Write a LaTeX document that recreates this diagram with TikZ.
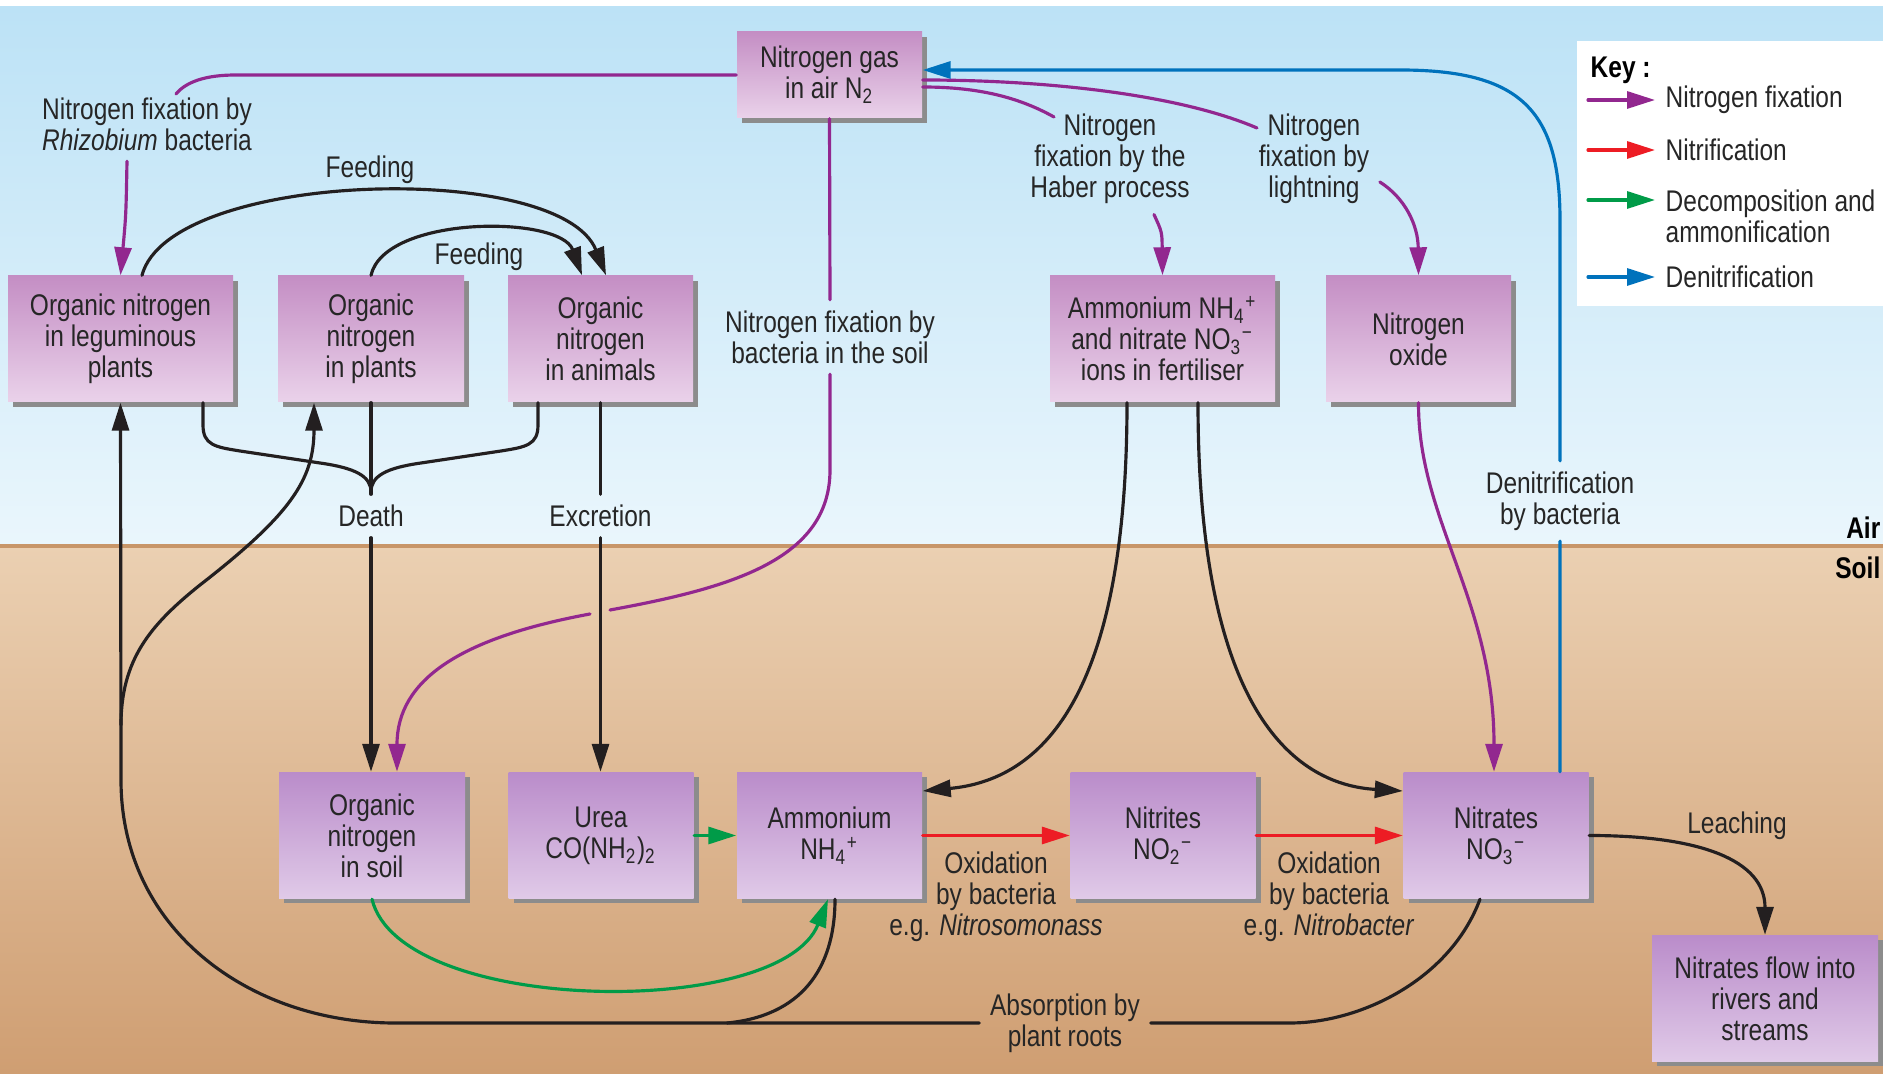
\documentclass[tikz,border=0pt]{standalone}
\usepackage{fontspec}
\setmainfont{Liberation Sans}[FakeStretch=0.82]
\usetikzlibrary{arrows.meta,shadows}
\definecolor{fixcol}{RGB}{146,39,143}
\definecolor{nitcol}{RGB}{237,28,36}
\definecolor{deccol}{RGB}{0,155,72}
\definecolor{dencol}{RGB}{0,114,188}
\definecolor{linecol}{RGB}{35,31,32}
\definecolor{skytop}{RGB}{188,226,246}
\definecolor{skybot}{RGB}{234,246,252}
\definecolor{soiltop}{RGB}{235,208,178}
\definecolor{soilbot}{RGB}{207,158,114}
\definecolor{soiledge}{RGB}{200,150,105}
\definecolor{boxtopA}{RGB}{196,142,196}
\definecolor{boxbotA}{RGB}{234,210,234}
\definecolor{boxtopB}{RGB}{186,140,202}
\definecolor{boxbotB}{RGB}{224,202,232}
\begin{document}
\begin{tikzpicture}[x=0.1mm,y=-0.1mm,>={Triangle[length=2.8mm,width=1.7mm]},
		font=\fontsize{8.5}{8.8}\selectfont, line join=round, line cap=round,
		box/.style={top color=boxtopA, bottom color=boxbotA, text=black!85, align=center, inner sep=0pt,
				minimum width=18.5mm, minimum height=12.6mm,
				drop shadow={shadow xshift=0.5mm, shadow yshift=-0.5mm, fill=black!45, opacity=1}},
		soilbox/.style={box, top color=boxtopB, bottom color=boxbotB},
		lab/.style={text=black!85, align=center, inner sep=1mm},
		blkline/.style={draw=linecol, line width=0.9pt},
		fixline/.style={draw=fixcol, line width=0.9pt},
		nitline/.style={draw=nitcol, line width=0.9pt},
		decline/.style={draw=deccol, line width=0.9pt},
		denline/.style={draw=dencol, line width=0.9pt}]
	\useasboundingbox (0,0) rectangle (1883,1074);
	\clip (0,0) rectangle (1883,1074);
	\fill[white] (0,0) rectangle (1883,1074);
	\shade[top color=skytop, bottom color=skybot] (0,7) rectangle (1883,546);
	\shade[top color=soiltop, bottom color=soilbot] (0,546) rectangle (1883,1074);
	\draw[soiledge, line width=0.4mm] (0,546)--(1883,546);
	\node[anchor=east, inner sep=0pt, font=\fontsize{8.5}{8.8}\bfseries] (air) at (1881,528) {Air};
	\node[anchor=east, inner sep=0pt, font=\fontsize{8.5}{8.8}\bfseries] (soil) at (1881,568) {Soil};

	% boxes
	\node[box, minimum height=8.6mm] (n2) at (829.5,75) {Nitrogen gas\\in air N\textsubscript{2}};
	\node[box, minimum width=22.5mm] (legume) at (120.5,339) {Organic nitrogen\\in leguminous\\plants};
	\node[box, minimum width=18.6mm] (plants) at (371,339) {Organic\\nitrogen\\in plants};
	\node[box] (animals) at (600.5,339) {Organic\\nitrogen\\in animals};
	\node[box, minimum width=22.5mm] (fert) at (1162.5,339) {Ammonium NH\textsubscript{4}\textsuperscript{+}\\and nitrate NO\textsubscript{3}\textsuperscript{−}\\ions in fertiliser};
	\node[box] (nox) at (1418.5,339) {Nitrogen\\oxide};
	\node[soilbox, minimum width=18.6mm] (soilorg) at (372,835.5) {Organic\\nitrogen\\in soil};
	\node[soilbox] (urea) at (601,835.5) {Urea\\CO(NH\textsubscript{2})\textsubscript{2}};
	\node[soilbox] (ammon) at (829.5,835.5) {Ammonium\\NH\textsubscript{4}\textsuperscript{+}};
	\node[soilbox] (nitrites) at (1163,835.5) {Nitrites\\NO\textsubscript{2}\textsuperscript{−}};
	\node[soilbox] (nitrates) at (1496,835.5) {Nitrates\\NO\textsubscript{3}\textsuperscript{−}};
	\node[soilbox, minimum width=22.6mm] (rivers) at (1765,998.5) {Nitrates flow into\\rivers and\\streams};

	% labels
	\node[lab] (rhizo) at (147,124) {Nitrogen fixation by\\\textit{Rhizobium} bacteria};
	\node[lab] (feedout) at (370,170) {Feeding};
	\node[lab] (feedin) at (479,257) {Feeding};
	\node[lab] (nfix) at (830,337) {Nitrogen fixation by\\bacteria in the soil};
	\node[lab] (death) at (371,516) {Death};
	\node[lab] (excr) at (600.5,516) {Excretion};
	\node[lab] (haber) at (1110,159) {Nitrogen\\fixation by the\\Haber process};
	\node[lab] (light) at (1314,159) {Nitrogen\\fixation by\\lightning};
	\node[lab] (denit) at (1560,501) {Denitrification\\by bacteria};
	\node[lab] (leach) at (1737,826) {Leaching};
	\node[lab] (oxidA) at (996,897) {Oxidation\\by bacteria\\e.g. \textit{Nitrosomonass}};
	\node[lab] (oxidB) at (1329,897) {Oxidation\\by bacteria\\e.g. \textit{Nitrobacter}};
	\node[lab] (absorb) at (1065,1023) {Absorption by\\plant roots};

	\coordinate (rhizoin) at (176,94);
	\coordinate (haberin) at (1054,117);
	\coordinate (lightin) at (1257,128);
	\coordinate (gapA) at (610,610);
	\coordinate (gapB) at (590,614);
	\coordinate (rootjoin) at (121,725);
	\coordinate (ammjoin) at (727,1023);

	% nitrogen fixation
	\draw[fixline] (n2.west)--(236,75) .. controls (205,75) and (186,82) .. (rhizoin);
	\draw[fixline,->] ([xshift=-2mm]rhizo.south) .. controls (126,215) .. (legume.north);
	\draw[fixline] ([yshift=-0.5mm]n2.east) .. controls (1050,80) and (1180,95) .. (lightin);
	\draw[fixline] ([yshift=-1.2mm]n2.east) .. controls (980,87) and (1020,98) .. (haberin);
	\draw[fixline,->] ([xshift=4.4mm]haber.south) .. controls (1162,232) .. (fert.north);
	\draw[fixline,->] ([yshift=-2.3mm]light.east) .. controls (1405,198) and (1418,225) .. (nox.north);
	\draw[fixline,->] (nox.south) .. controls (1418,520) and (1494,600) .. ([xshift=-0.2mm]nitrates.north);
	\draw[fixline] (n2.south)--(nfix.north);
	\draw[fixline] (nfix.south)--(830,470) .. controls (830,560) and (730,588) .. (gapA);
	\draw[fixline,->] (gapB) .. controls (460,638) and (397,680) .. ([xshift=2.5mm]soilorg.north);

	% feeding, death, excretion
	\draw[blkline,->] ([xshift=2.15mm]legume.north) .. controls (170,170) and (560,160) .. ([xshift=0.55mm]animals.north);
	\draw[blkline,->] (plants.north) .. controls (385,215) and (560,215) .. ([xshift=-1.85mm]animals.north);
	\draw[blkline] ([xshift=8.25mm]legume.south)--(203,425) .. controls (203,445) and (215,447) .. (240,451)
		--(320,463) .. controls (355,468) and (371,476) .. (371,492);
	\draw[blkline] ([xshift=-6.25mm]animals.south)--(538,425) .. controls (538,445) and (526,447) .. (501,451)
		--(421,463) .. controls (386,468) and (371,476) .. (371,492);
	\draw[blkline] (plants.south)--(death.north);
	\draw[blkline,->] (death.south)--(death.south |- soilorg.north);
	\draw[blkline] (animals.south)--(excr.north);
	\draw[blkline,->] (excr.south)--(excr.south |- urea.north);

	% absorption by plant roots
	\draw[blkline,->] (absorb.west)--(395,1023) .. controls (250,1023) and (121,930) .. (121,780)--(legume.south);
	\draw[blkline,->] (rootjoin) .. controls (121,660) and (150,625) .. (200,585)
		.. controls (290,515) and (314,480) .. ([xshift=-5.7mm]plants.south);
	\draw[blkline] ([xshift=0.55mm]ammon.south) .. controls (835,970) and (800,1016) .. (ammjoin);
	\draw[blkline] ([xshift=-1.6mm]nitrates.south) .. controls (1450,980) and (1360,1023) .. (1290,1023)--(absorb.east);

	% fertiliser, nitrification, ammonification
	\draw[blkline,->] ([xshift=-3.55mm]fert.south) .. controls (1127,700) and (1040,780) .. ([yshift=4.45mm]ammon.east);
	\draw[blkline,->] ([xshift=3.55mm]fert.south) .. controls (1198,720) and (1300,785) .. ([yshift=4.45mm]nitrates.west);
	\draw[decline,->] (urea.east)--(ammon.west);
	\draw[decline,->] (soilorg.south) .. controls (400,1015) and (780,1020) .. ([xshift=-0.15mm]ammon.south);
	\draw[nitline,->] (ammon.east)--(nitrites.west);
	\draw[nitline,->] (nitrites.east)--(nitrates.west);
	\draw[blkline,->] (nitrates.east) .. controls (1700,835.5) and (1765,860) .. (rivers.north);

	% denitrification
	\draw[denline] ([xshift=6.4mm]nitrates.north)--(denit.south);
	\draw[denline,->] (denit.north)--(1560,220) .. controls (1560,110) and (1520,70) .. (1400,70)--([yshift=0.5mm]n2.east);

	% key
	\fill[white] (1577,41) rectangle (1900,306);
	\node[anchor=west, inner sep=0pt, font=\fontsize{8.5}{8.8}\bfseries] (keyhead) at (1590,70) {Key :};
	\node[lab, anchor=west] (keyfix) at (1655,100) {Nitrogen fixation};
	\node[lab, anchor=west] (keynit) at (1655,150) {Nitrification};
	\node[lab, anchor=west, align=left] (keydec) at (1655,216) {Decomposition and\\ammonification};
	\node[lab, anchor=west] (keyden) at (1655,277) {Denitrification};
	\draw[fixline,->] (1588,100)--(keyfix.west);
	\draw[nitline,->] (1588,150)--(keynit.west);
	\draw[decline,->] (1588,200)--(keydec.west |- 0,200);
	\draw[denline,->] (1588,277)--(keyden.west);
\end{tikzpicture}
\end{document}
